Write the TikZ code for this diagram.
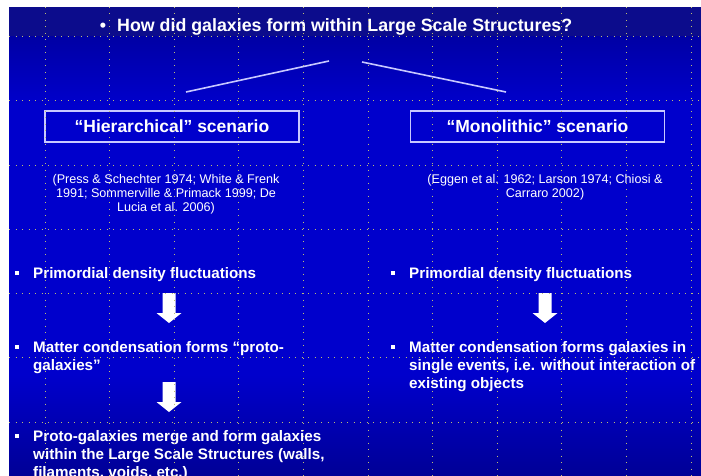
\documentclass[tikz,border=0pt]{standalone}
\usepackage{fontspec}
\setmainfont{Liberation Sans}
\definecolor{bgtop}{RGB}{12,12,140}
\definecolor{bgup}{RGB}{0,0,165}
\definecolor{bgmid}{RGB}{0,0,204}
\definecolor{bgbot}{RGB}{0,0,150}
\definecolor{griddot}{RGB}{190,190,115}
\definecolor{edge}{RGB}{200,200,255}
\begin{document}
\begin{tikzpicture}[x=1pt,y=-1pt,
  gridline/.style={griddot, line width=1pt, dash pattern=on 1pt off 5.5pt},
  titletext/.style={inner sep=0, text=white, font=\fontsize{17.8}{20}\selectfont\bfseries},
  scenbox/.style={draw=edge, line width=1.5pt, minimum width=254, minimum height=31, inner sep=0,
     text=white, font=\fontsize{17.5}{20}\selectfont\bfseries},
  citetext/.style={inner sep=0, text=white, align=center, anchor=base,
     font=\fontsize{12.6}{14}\selectfont},
  btext/.style={inner sep=0, text=white, align=left, anchor=base west,
     font=\fontsize{15.2}{18}\selectfont\bfseries},
  sqbullet/.style={fill=white, minimum size=4, inner sep=0},
  branch/.style={edge, line width=1.6pt},
  downarrow/.pic={\fill[white] (-6.5,0) -- (6.5,0) -- (6.5,20) -- (12.5,20) -- (0,30)
     -- (-12.5,20) -- (-6.5,20) -- cycle;}
]
\useasboundingbox (0,0) rectangle (701,476);
\clip (0,0) rectangle (701,476);
\fill[white] (0,0) rectangle (701,476);
% background
\fill[bgtop] (9,7) rectangle (701,37);
\shade[top color=bgup, bottom color=bgmid] (9,37) rectangle (701,105);
\fill[bgmid] (9,105) rectangle (701,375);
\shade[top color=bgmid, bottom color=bgbot] (9,375) rectangle (701,476);

% title
\node[titletext, anchor=base] (tbul) at (103,32) {•};
\node[titletext, anchor=base west] (title) at (117,32) {How did galaxies form within Large Scale Structures?};

% branches
\coordinate (l1a) at (186,92); \coordinate (l1b) at (329,61);
\coordinate (l2a) at (362,62); \coordinate (l2b) at (506,92);
\draw[branch] (l1a) -- (l1b);
\draw[branch] (l2a) -- (l2b);

% scenario boxes
\node[scenbox] (hier) at (172,126.5) {“Hierarchical” scenario};
\node[scenbox] (mono) at (537.5,126.5) {“Monolithic” scenario};

% citations (base = last line)
\node[citetext] (hcite) at (166,211.5) {(Press \& Schechter 1974; White \& Frenk\\1991; Sommerville \& Primack 1999; De\\Lucia et al. 2006)};
\node[citetext] (mcite) at (545,197.5) {(Eggen et al. 1962; Larson 1974; Chiosi \&\\Carraro 2002)};

% left column
\node[sqbullet] (lb1) at (17,273) {};
\node[btext] (lt1) at (33,278) {Primordial density fluctuations};
\pic (la1) at (169,293) {downarrow};
\node[sqbullet] (lb2) at (17,347) {};
\node[btext] (lt2) at (33,370) {Matter condensation forms “proto-\\galaxies”};
\pic (la2) at (169,382) {downarrow};
\node[sqbullet] (lb3) at (17,436) {};
\node[btext] (lt3) at (33,477) {Proto-galaxies merge and form galaxies\\within the Large Scale Structures (walls,\\filaments, voids, etc.)};

% right column
\node[sqbullet] (rb1) at (393,273) {};
\node[btext] (rt1) at (409,278) {Primordial density fluctuations};
\pic (ra1) at (545,293) {downarrow};
\node[sqbullet] (rb2) at (393,347) {};
\node[btext] (rt2) at (409,388) {Matter condensation forms galaxies in\\single events, i.e. without interaction of\\existing objects};

% dotted grid
\foreach \k in {0,...,6} {
  \pgfmathsetmacro\yy{36.8+64.2*\k}
  \draw[gridline] (9,\yy) -- (701,\yy);
}
\foreach \k in {0,...,10} {
  \pgfmathsetmacro\xx{45+64.6*\k}
  \draw[gridline] (\xx,7) -- (\xx,476);
}
\end{tikzpicture}
\end{document}
